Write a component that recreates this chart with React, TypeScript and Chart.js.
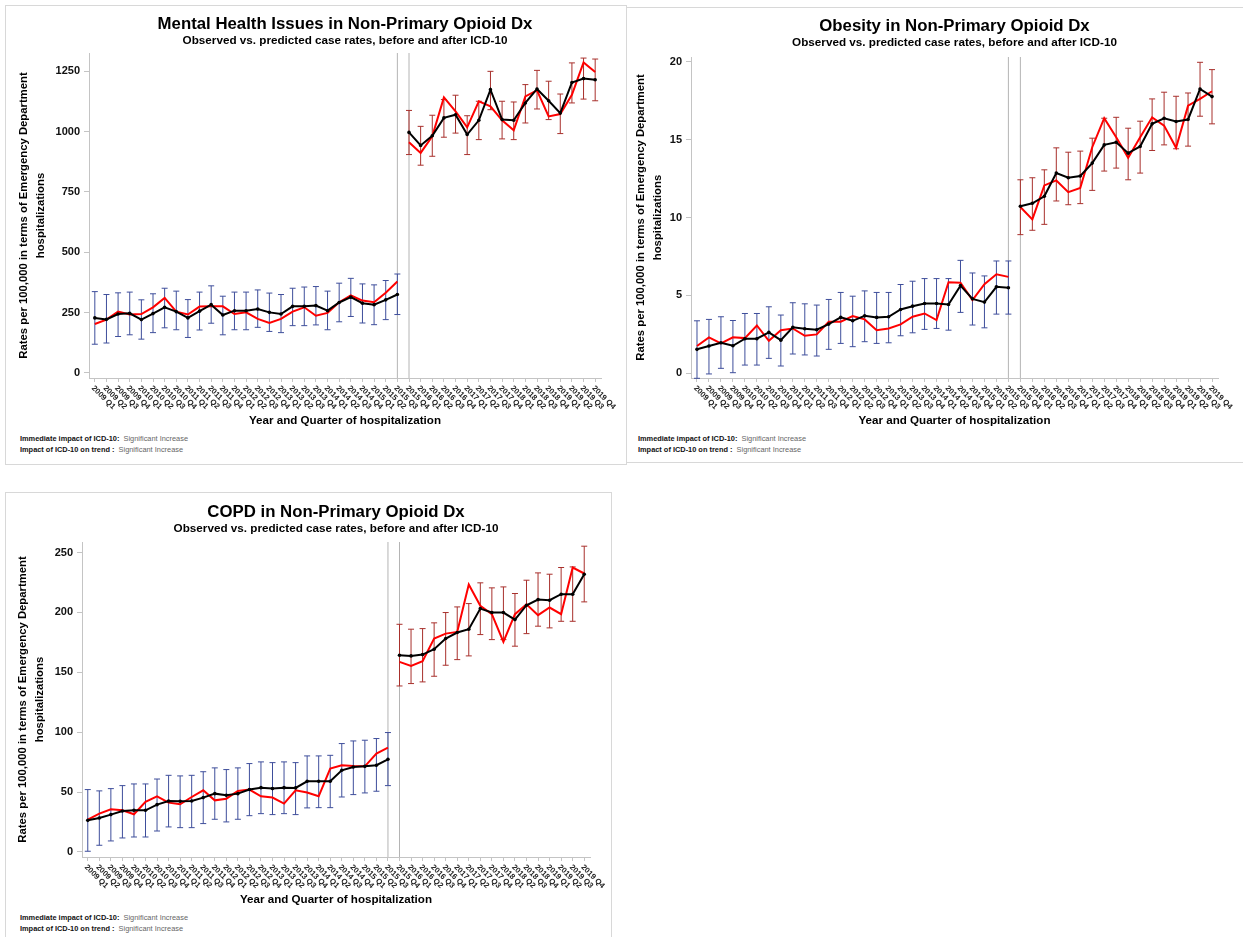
import React, { useEffect, useRef } from "react";
import { Chart, registerables } from "chart.js";

Chart.register(...registerables);

const FONT = '"Liberation Sans", Arial, Helvetica, sans-serif';

// Quarter categories shared by every panel (x axis)
const quarterLabels = [
  "2009 Q1", "2009 Q2", "2009 Q3", "2009 Q4",
  "2010 Q1", "2010 Q2", "2010 Q3", "2010 Q4",
  "2011 Q1", "2011 Q2", "2011 Q3", "2011 Q4",
  "2012 Q1", "2012 Q2", "2012 Q3", "2012 Q4",
  "2013 Q1", "2013 Q2", "2013 Q3", "2013 Q4",
  "2014 Q1", "2014 Q2", "2014 Q3", "2014 Q4",
  "2015 Q1", "2015 Q2", "2015 Q3", "2015 Q4",
  "2016 Q1", "2016 Q2", "2016 Q3", "2016 Q4",
  "2017 Q1", "2017 Q2", "2017 Q3", "2017 Q4",
  "2018 Q1", "2018 Q2", "2018 Q3", "2018 Q4",
  "2019 Q1", "2019 Q2", "2019 Q3", "2019 Q4",
];

// Last quarter before ICD-10 and first quarter after it
const transitionLabels = ["2015 Q3", "2015 Q4"];

const chartSubtitle = "Observed vs. predicted case rates, before and after ICD-10";
const yAxisTitle = ["Rates per 100,000 in terms of Emergency Department", "hospitalizations"];
const xAxisTitle = "Year and Quarter of hospitalization";
const footnoteRows: [string, string][] = [
  ["Immediate impact of ICD-10:", "Significant Increase"],
  ["Impact of ICD-10 on trend :", "Significant Increase"],
];

// ---- Mental health issues ----
const mentalTicks = [0, 250, 500, 750, 1000, 1250];
const mentalPreObserved = [228, 222, 244, 247, 221, 246, 272, 254, 228, 256, 283, 240, 258, 258, 265, 251, 244, 276, 276, 279, 258, 292, 314, 289, 283, 303, 325];
const mentalPrePredicted = [203, 221, 254, 242, 244, 272, 311, 254, 242, 275, 276, 276, 244, 251, 224, 207, 224, 254, 272, 237, 249, 293, 321, 300, 293, 332, 379];
const mentalPreLower = [119, 124, 151, 158, 140, 167, 187, 179, 147, 178, 206, 158, 179, 179, 189, 172, 167, 196, 196, 199, 179, 212, 234, 207, 200, 221, 242];
const mentalPreUpper = [337, 325, 332, 335, 303, 328, 351, 339, 304, 335, 361, 318, 335, 335, 344, 331, 325, 351, 356, 358, 339, 372, 392, 369, 365, 383, 410];
const mentalPostObserved = [997, 943, 983, 1057, 1070, 988, 1047, 1174, 1050, 1047, 1119, 1177, 1128, 1077, 1204, 1220, 1215];
const mentalPostPredicted = [956, 912, 981, 1142, 1084, 1018, 1126, 1105, 1047, 1006, 1146, 1171, 1063, 1073, 1153, 1287, 1247];
const mentalPostLower = [905, 861, 898, 977, 994, 905, 967, 1091, 970, 967, 1036, 1094, 1050, 992, 1119, 1135, 1128];
const mentalPostUpper = [1088, 1022, 1068, 1133, 1151, 1066, 1126, 1250, 1126, 1123, 1195, 1254, 1209, 1156, 1285, 1305, 1301];

// ---- Obesity ----
const obesityTicks = [0, 5, 10, 15, 20];
const obesityPreObserved = [1.54, 1.75, 1.96, 1.77, 2.22, 2.22, 2.63, 2.13, 2.95, 2.86, 2.8, 3.16, 3.59, 3.37, 3.69, 3.59, 3.63, 4.1, 4.31, 4.48, 4.48, 4.42, 5.63, 4.78, 4.57, 5.55, 5.49];
const obesityPrePredicted = [1.75, 2.31, 1.92, 2.31, 2.26, 3.07, 2.09, 2.77, 2.88, 2.41, 2.5, 3.31, 3.31, 3.67, 3.46, 2.77, 2.88, 3.14, 3.63, 3.84, 3.42, 5.85, 5.81, 4.7, 5.72, 6.36, 6.19];
const obesityPreLower = [-0.32, -0.04, 0.32, 0.04, 0.53, 0.53, 0.96, 0.47, 1.24, 1.18, 1.11, 1.54, 1.92, 1.71, 2.03, 1.92, 1.96, 2.41, 2.6, 2.82, 2.88, 2.77, 3.91, 3.1, 2.92, 3.8, 3.8];
const obesityPreUpper = [3.37, 3.46, 3.63, 3.39, 3.84, 3.84, 4.27, 3.74, 4.53, 4.46, 4.38, 4.74, 5.19, 4.95, 5.29, 5.19, 5.19, 5.7, 5.91, 6.08, 6.08, 6.08, 7.25, 6.44, 6.25, 7.21, 7.21];
const obesityPostObserved = [10.72, 10.91, 11.36, 12.85, 12.55, 12.66, 13.49, 14.66, 14.83, 14.13, 14.56, 16.01, 16.37, 16.16, 16.29, 18.25, 17.76];
const obesityPostPredicted = [10.67, 9.88, 12.06, 12.38, 11.63, 11.89, 14.51, 16.37, 15.15, 13.83, 15.15, 16.43, 15.9, 14.47, 17.18, 17.61, 18.1];
const obesityPostLower = [8.9, 9.18, 9.56, 11.06, 10.82, 10.89, 11.74, 12.98, 13.17, 12.42, 12.85, 14.3, 14.66, 14.41, 14.58, 16.5, 16.01];
const obesityPostUpper = [12.42, 12.55, 13.06, 14.47, 14.19, 14.26, 15.09, 16.37, 16.43, 15.73, 16.18, 17.61, 18.04, 17.78, 17.99, 19.96, 19.49];

// ---- COPD ----
const copdTicks = [0, 50, 100, 150, 200, 250];
const copdPreObserved = [26.4, 28.4, 31.2, 34.2, 34.8, 34.8, 39.5, 42.6, 42.3, 42.6, 45.4, 48.7, 47.3, 48.7, 52.1, 53.7, 52.9, 53.7, 53.5, 59.0, 59.0, 59.0, 68.2, 71.0, 71.5, 72.4, 77.4];
const copdPrePredicted = [27.0, 32.0, 35.6, 34.8, 31.5, 41.8, 46.5, 41.2, 39.8, 45.9, 51.5, 43.1, 44.5, 50.9, 52.1, 46.5, 45.4, 40.4, 51.5, 49.6, 46.5, 69.6, 72.4, 71.8, 71.5, 82.1, 87.1];
const copdPreLower = [0.6, 5.6, 9.2, 11.7, 12.5, 12.5, 17.5, 20.9, 20.3, 20.3, 23.7, 27.3, 25.1, 27.3, 30.3, 32.0, 31.2, 32.0, 31.2, 36.8, 37.0, 37.0, 45.9, 47.9, 49.3, 50.7, 55.4];
const copdPreUpper = [52.1, 51.0, 52.9, 55.4, 56.8, 56.8, 60.9, 64.0, 63.5, 64.0, 67.0, 70.2, 68.8, 70.2, 73.8, 75.2, 74.6, 75.2, 74.6, 80.2, 80.2, 80.7, 90.5, 92.7, 93.3, 94.7, 99.7];
const copdPostObserved = [164.3, 163.7, 164.8, 169.3, 178.2, 183.2, 186.0, 203.2, 199.9, 199.9, 194.0, 206.0, 210.7, 210.2, 215.2, 215.2, 231.9];
const copdPostPredicted = [158.7, 155.3, 159.2, 178.2, 182.3, 183.7, 223.3, 205.5, 198.5, 175.4, 198.5, 206.8, 197.7, 204.1, 198.5, 237.5, 232.5];
const copdPostLower = [138.6, 140.6, 142.0, 146.7, 155.9, 160.6, 163.7, 181.5, 177.3, 177.3, 171.8, 182.3, 188.5, 187.1, 192.6, 192.6, 208.8];
const copdPostUpper = [190.1, 186.0, 186.5, 191.3, 199.9, 204.6, 207.4, 224.7, 220.5, 221.3, 215.8, 226.9, 233.0, 231.9, 237.5, 238.0, 255.3];

type Series = {
  observed: number[];
  predicted: number[];
  lower: number[];
  upper: number[];
};

type PanelSpec = {
  title: string;
  ticks: number[];
  yMin: number;
  yMax: number;
  pre: Series;
  post: Series;
  // layout, page coordinates
  box: { left: number; top: number; width: number; height: number };
  area: { left: number; right: number; top: number; bottom: number };
  canvasBottom: number;
  titleY: number;
  subtitleY: number;
  yTitleX: number;
  xTitleY: number;
  footX: number;
  footY: number;
};

const panels: PanelSpec[] = [
  {
    title: "Mental Health Issues in Non-Primary Opioid Dx",
    ticks: mentalTicks,
    yMin: -21,
    yMax: 1326,
    pre: { observed: mentalPreObserved, predicted: mentalPrePredicted, lower: mentalPreLower, upper: mentalPreUpper },
    post: { observed: mentalPostObserved, predicted: mentalPostPredicted, lower: mentalPostLower, upper: mentalPostUpper },
    box: { left: 5, top: 5, width: 622, height: 460 },
    area: { left: 89, right: 601, top: 53, bottom: 378 },
    canvasBottom: 431,
    titleY: 24,
    subtitleY: 41,
    yTitleX: 24,
    xTitleY: 421,
    footX: 20,
    footY: 433,
  },
  {
    title: "Obesity in Non-Primary Opioid Dx",
    ticks: obesityTicks,
    yMin: -0.3,
    yMax: 20.3,
    pre: { observed: obesityPreObserved, predicted: obesityPrePredicted, lower: obesityPreLower, upper: obesityPreUpper },
    post: { observed: obesityPostObserved, predicted: obesityPostPredicted, lower: obesityPostLower, upper: obesityPostUpper },
    box: { left: 626, top: 7, width: 625, height: 456 },
    area: { left: 691, right: 1218, top: 57, bottom: 378 },
    canvasBottom: 431,
    titleY: 26,
    subtitleY: 43,
    yTitleX: 641,
    xTitleY: 421,
    footX: 638,
    footY: 433,
  },
  {
    title: "COPD in Non-Primary Opioid Dx",
    ticks: copdTicks,
    yMin: -4.2,
    yMax: 258.8,
    pre: { observed: copdPreObserved, predicted: copdPrePredicted, lower: copdPreLower, upper: copdPreUpper },
    post: { observed: copdPostObserved, predicted: copdPostPredicted, lower: copdPostLower, upper: copdPostUpper },
    box: { left: 5, top: 492, width: 607, height: 470 },
    area: { left: 82, right: 590, top: 542, bottom: 857 },
    canvasBottom: 910,
    titleY: 512,
    subtitleY: 529,
    yTitleX: 23,
    xTitleY: 900,
    footX: 20,
    footY: 912,
  },
];

const AXIS_GREY = "#c4c4c4";
const PRE_BAR = "rgb(62, 78, 155)";
const POST_BAR = "rgb(168, 48, 44)";

function buildChart(canvas: HTMLCanvasElement, spec: PanelSpec) {
  const ox = spec.box.left + 1;
  const oy = spec.box.top + 1;
  const cw = canvas.width;
  const ch = canvas.height;
  const area = {
    left: spec.area.left - ox,
    right: spec.area.right - ox,
    top: spec.area.top - oy,
    bottom: spec.area.bottom - oy,
  };
  const preCount = spec.pre.observed.length;

  const toPoints = (vals: number[], start: number) =>
    vals.map((v, i) => ({ x: quarterLabels[start + i], y: v }));

  const headerPlugin = {
    id: "panelHeader",
    afterDraw(chart: any) {
      const { ctx, chartArea } = chart;
      const cx = (chartArea.left + chartArea.right) / 2;
      ctx.save();
      ctx.fillStyle = "#000";
      ctx.textAlign = "center";
      ctx.textBaseline = "middle";
      ctx.font = `bold 16.8px ${FONT}`;
      ctx.fillText(spec.title, cx, spec.titleY - oy);
      ctx.font = `bold 11.7px ${FONT}`;
      ctx.fillText(chartSubtitle, cx, spec.subtitleY - oy);
      ctx.restore();
    },
  };

  const markersPlugin = {
    id: "icdMarkers",
    beforeDatasetsDraw(chart: any) {
      const { ctx, chartArea } = chart;
      const xs = chart.scales.x;
      const ys = chart.scales.y;
      ctx.save();
      // ICD-10 transition reference lines
      ctx.strokeStyle = "#b4b4b4";
      ctx.lineWidth = 1;
      transitionLabels.forEach((lab) => {
        const px = xs.getPixelForValue(quarterLabels.indexOf(lab));
        ctx.beginPath();
        ctx.moveTo(px, chartArea.top);
        ctx.lineTo(px, chartArea.bottom);
        ctx.stroke();
      });
      // confidence bars
      const groups = [
        { s: spec.pre, start: 0, color: PRE_BAR },
        { s: spec.post, start: preCount, color: POST_BAR },
      ];
      groups.forEach((g) => {
        ctx.strokeStyle = g.color;
        g.s.lower.forEach((lo, i) => {
          const px = xs.getPixelForValue(g.start + i);
          const yl = ys.getPixelForValue(lo);
          const yu = ys.getPixelForValue(g.s.upper[i]);
          ctx.beginPath();
          ctx.moveTo(px, yu);
          ctx.lineTo(px, yl);
          ctx.moveTo(px - 3, yu);
          ctx.lineTo(px + 3, yu);
          ctx.moveTo(px - 3, yl);
          ctx.lineTo(px + 3, yl);
          ctx.stroke();
        });
      });
      ctx.restore();
    },
  };

  const slantedTicksPlugin = {
    id: "slantedTicks",
    afterDraw(chart: any) {
      const { ctx } = chart;
      const xs = chart.scales.x;
      ctx.save();
      ctx.fillStyle = "#222";
      ctx.font = `bold 7.8px ${FONT}`;
      ctx.textAlign = "left";
      ctx.textBaseline = "middle";
      xs.ticks.forEach((t: any, i: number) => {
        const px = xs.getPixelForTick(i);
        ctx.save();
        ctx.translate(px - 2, xs.top + 9);
        ctx.rotate(Math.PI / 4);
        ctx.fillText(String(xs.getLabelForValue(t.value)), 0, 0);
        ctx.restore();
      });
      ctx.restore();
    },
  };

  const xTitleSize = 11.6;
  const xTitleLH = xTitleSize * 1.2;
  const yTitleSize = 11.3;
  const yTitleLH = yTitleSize * 1.45;

  return new Chart(canvas, {
    type: "line",
    data: {
      labels: quarterLabels,
      datasets: [
        {
          label: "Observed (before)",
          data: toPoints(spec.pre.observed, 0),
          borderColor: "#000",
          backgroundColor: "#000",
          borderWidth: 2,
          pointRadius: 1.8,
          pointBorderWidth: 0,
          tension: 0,
        },
        {
          label: "Observed (after)",
          data: toPoints(spec.post.observed, preCount),
          borderColor: "#000",
          backgroundColor: "#000",
          borderWidth: 2,
          pointRadius: 1.8,
          pointBorderWidth: 0,
          tension: 0,
        },
        {
          label: "Predicted (before)",
          data: toPoints(spec.pre.predicted, 0),
          borderColor: "#ff0000",
          backgroundColor: "#ff0000",
          borderWidth: 2,
          pointRadius: 0,
          tension: 0,
        },
        {
          label: "Predicted (after)",
          data: toPoints(spec.post.predicted, preCount),
          borderColor: "#ff0000",
          backgroundColor: "#ff0000",
          borderWidth: 2,
          pointRadius: 0,
          tension: 0,
        },
      ],
    },
    options: {
      responsive: false,
      animation: false,
      devicePixelRatio: 1,
      events: [],
      layout: {
        padding: { top: area.top, right: cw - area.right, left: 0, bottom: 0 },
      },
      plugins: {
        legend: { display: false },
        title: { display: false },
        tooltip: { enabled: false },
      },
      scales: {
        x: {
          type: "category",
          offset: true,
          grid: {
            display: true,
            drawOnChartArea: false,
            drawTicks: true,
            tickLength: 4,
            color: AXIS_GREY,
          },
          border: { display: true, color: AXIS_GREY, width: 1 },
          ticks: { display: false, autoSkip: false },
          title: {
            display: true,
            text: xAxisTitle,
            color: "#000",
            font: { family: FONT, size: xTitleSize, weight: "bold", lineHeight: 1.2 },
            padding: { top: 0, bottom: ch - (spec.xTitleY - oy) - xTitleLH / 2 },
          },
          afterFit: (scale: any) => {
            scale.height = ch - area.bottom;
          },
        },
        y: {
          type: "linear",
          min: spec.yMin,
          max: spec.yMax,
          grid: {
            display: true,
            drawOnChartArea: false,
            drawTicks: true,
            tickLength: 5,
            color: AXIS_GREY,
          },
          border: { display: true, color: AXIS_GREY, width: 1 },
          ticks: {
            color: "#111",
            padding: 4,
            font: { family: FONT, size: 11, weight: "bold" },
            callback: (v: any) => String(v),
          },
          afterBuildTicks: (scale: any) => {
            scale.ticks = spec.ticks.map((v) => ({ value: v }));
          },
          title: {
            display: true,
            text: yAxisTitle,
            color: "#000",
            font: { family: FONT, size: yTitleSize, weight: "bold", lineHeight: 1.45 },
            padding: { top: spec.yTitleX - ox - yTitleLH / 2, bottom: 0 },
          },
          afterFit: (scale: any) => {
            scale.width = area.left;
          },
        },
      },
    },
    plugins: [markersPlugin, slantedTicksPlugin, headerPlugin],
  } as any);
}

function Panel({ spec }: { spec: PanelSpec }) {
  const ref = useRef<HTMLCanvasElement>(null);
  const ox = spec.box.left + 1;
  const oy = spec.box.top + 1;
  const cw = spec.box.width - 2;
  const ch = spec.canvasBottom - oy;

  useEffect(() => {
    const chart = buildChart(ref.current as HTMLCanvasElement, spec);
    return () => chart.destroy();
  }, [spec]);

  return (
    <div
      style={{
        position: "absolute",
        left: spec.box.left,
        top: spec.box.top,
        width: spec.box.width,
        height: spec.box.height,
        border: "1px solid #d8d8d8",
        boxSizing: "border-box",
        background: "#fff",
      }}
    >
      <canvas
        ref={ref}
        width={cw}
        height={ch}
        style={{ position: "absolute", left: 0, top: 0, width: cw, height: ch, display: "block" }}
      />
      <div
        style={{
          position: "absolute",
          left: spec.footX - ox,
          top: spec.footY - oy,
          fontFamily: FONT,
          fontSize: "7.4px",
          lineHeight: "11px",
          whiteSpace: "pre",
        }}
      >
        {footnoteRows.map(([label, verdict]) => (
          <div key={label}>
            <span style={{ fontWeight: "bold", color: "#111" }}>{label}</span>
            <span style={{ color: "#666" }}>{"  " + verdict}</span>
          </div>
        ))}
      </div>
    </div>
  );
}

export default function App() {
  return (
    <div
      style={{
        position: "absolute",
        left: 0,
        top: 0,
        width: 1243,
        height: 937,
        overflow: "hidden",
        background: "#fff",
      }}
    >
      {panels.map((p) => (
        <Panel key={p.title} spec={p} />
      ))}
    </div>
  );
}
